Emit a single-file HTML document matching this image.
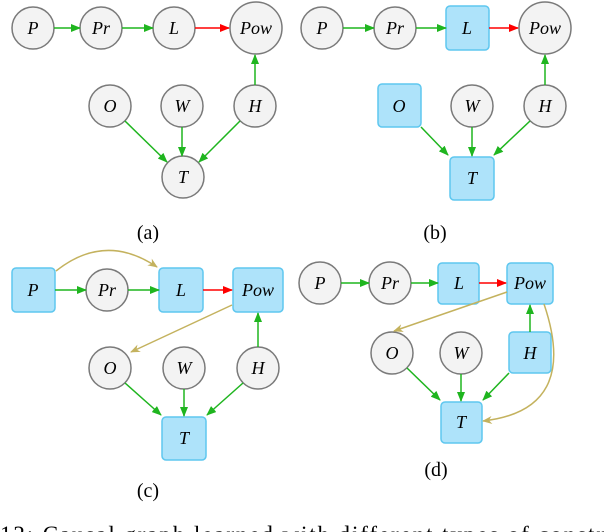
<!DOCTYPE html>
<html><head><meta charset="utf-8"><style>
html,body{margin:0;padding:0;background:#fff;width:604px;height:532px;overflow:hidden}
svg text{font-family:"Liberation Serif",serif}
.l{font-style:italic;font-size:18px}
.c{font-size:20px}
</style></head><body>
<svg width="604" height="532" viewBox="0 0 604 532" xmlns="http://www.w3.org/2000/svg">
<defs>
<marker id="g" markerWidth="10" markerHeight="8" refX="9" refY="4" orient="auto" markerUnits="userSpaceOnUse"><path d="M0,0 L10,4 L0,8z" fill="#1fb51f"/></marker>
<marker id="r" markerWidth="10" markerHeight="8" refX="9" refY="4" orient="auto" markerUnits="userSpaceOnUse"><path d="M0,0 L10,4 L0,8z" fill="#ff0000"/></marker>
<marker id="y" markerWidth="10" markerHeight="8" refX="9" refY="4" orient="auto" markerUnits="userSpaceOnUse"><path d="M0,0 L10,4 L0,8 L3,4z" fill="#c4b25e"/></marker>
</defs>
<g fill="#f3f3f3" stroke="#7a7a7a" stroke-width="1.5">
<circle cx="33" cy="28" r="21"/><circle cx="101" cy="28" r="21"/><circle cx="174" cy="28" r="21"/><circle cx="256" cy="28" r="26"/>
<circle cx="110" cy="106" r="21"/><circle cx="182" cy="106" r="21"/><circle cx="255" cy="106" r="21"/><circle cx="183" cy="177" r="21"/>
<circle cx="322" cy="28" r="21"/><circle cx="395" cy="28" r="21"/><circle cx="545" cy="28" r="26"/>
<circle cx="472" cy="106" r="21"/><circle cx="545" cy="106" r="21"/>
<circle cx="107" cy="290" r="21"/><circle cx="110" cy="368" r="21"/><circle cx="184" cy="368" r="21"/><circle cx="258" cy="368" r="21"/>
<circle cx="320" cy="283" r="21"/><circle cx="390" cy="283" r="21"/><circle cx="392" cy="353" r="21"/><circle cx="461" cy="353" r="21"/>
</g>
<g fill="#aee3fa" stroke="#5ec7ef" stroke-width="1.5">
<rect x="446" y="6" width="43" height="44" rx="4"/><rect x="378" y="84" width="43" height="43" rx="4"/><rect x="450" y="157" width="44" height="43" rx="4"/>
<rect x="12" y="268" width="43" height="44" rx="4"/><rect x="159" y="268" width="44" height="44" rx="4"/><rect x="233" y="268" width="50" height="44" rx="4"/><rect x="162" y="417" width="44" height="43" rx="4"/>
<rect x="438" y="263" width="41" height="41" rx="4"/><rect x="507" y="263" width="46" height="41" rx="4"/><rect x="509" y="332" width="42" height="41" rx="4"/><rect x="441" y="402" width="41" height="41" rx="4"/>
</g>
<g stroke="#1fb51f" stroke-width="1.5" fill="none" marker-end="url(#g)">
<line x1="54" y1="28" x2="80" y2="28"/><line x1="122" y1="28" x2="153" y2="28"/><line x1="255" y1="85" x2="255" y2="55"/>
<line x1="125" y1="121" x2="167" y2="162"/><line x1="182" y1="127" x2="182" y2="156"/><line x1="240" y1="121" x2="199" y2="162"/>
<line x1="343" y1="28" x2="374" y2="28"/><line x1="416" y1="28" x2="446" y2="28"/><line x1="545" y1="85" x2="545" y2="55"/>
<line x1="421" y1="127" x2="448" y2="155"/><line x1="472" y1="127" x2="472" y2="156"/><line x1="530" y1="121" x2="494" y2="155"/>
<line x1="55" y1="290" x2="86" y2="290"/><line x1="128" y1="290" x2="159" y2="290"/><line x1="258" y1="347" x2="258" y2="313"/>
<line x1="125" y1="383" x2="161" y2="415"/><line x1="184" y1="389" x2="184" y2="416"/><line x1="243" y1="383" x2="207" y2="415"/>
<line x1="341" y1="283" x2="369" y2="283"/><line x1="411" y1="283" x2="438" y2="283"/><line x1="530" y1="332" x2="530" y2="305"/>
<line x1="407" y1="368" x2="440" y2="400"/><line x1="461" y1="374" x2="461" y2="401"/><line x1="509" y1="373" x2="483" y2="400"/>
</g>
<g stroke="#ff0000" stroke-width="1.5" marker-end="url(#r)">
<line x1="195" y1="28" x2="229" y2="28"/><line x1="489" y1="28" x2="518" y2="28"/><line x1="203" y1="290" x2="232" y2="290"/><line x1="479" y1="283" x2="506" y2="283"/>
</g>
<g stroke="#c4b25e" stroke-width="1.5" fill="none" marker-end="url(#y)">
<path d="M56,271 Q105,232 157,267"/>
<line x1="232" y1="305" x2="131" y2="352"/>
<line x1="507" y1="292" x2="394" y2="331"/>
<path d="M544,304 Q580,410 483,421"/>
</g>
<g class="l" text-anchor="middle">
<text x="33" y="34">P</text><text x="101" y="34">Pr</text><text x="174" y="34">L</text><text x="256" y="34">Pow</text>
<text x="110" y="112">O</text><text x="182" y="112">W</text><text x="255" y="112">H</text><text x="183" y="183">T</text>
<text x="322" y="34">P</text><text x="395" y="34">Pr</text><text x="467" y="34">L</text><text x="545" y="34">Pow</text>
<text x="399" y="112">O</text><text x="472" y="112">W</text><text x="545" y="112">H</text><text x="472" y="184">T</text>
<text x="33" y="296">P</text><text x="107" y="296">Pr</text><text x="181" y="296">L</text><text x="258" y="296">Pow</text>
<text x="110" y="374">O</text><text x="184" y="374">W</text><text x="258" y="374">H</text><text x="184" y="444">T</text>
<text x="320" y="289">P</text><text x="390" y="289">Pr</text><text x="459" y="289">L</text><text x="530" y="289">Pow</text>
<text x="392" y="359">O</text><text x="461" y="359">W</text><text x="530" y="359">H</text><text x="461" y="428">T</text>
</g>
<g class="c" text-anchor="middle">
<text x="148" y="239">(a)</text><text x="435" y="239">(b)</text><text x="148" y="497">(c)</text><text x="436" y="476">(d)</text>
</g>
<text x="0" y="542" style="font-size:23px" textLength="604" lengthAdjust="spacing">12: Causal graph learned with different types of constr</text>
</svg>
</body></html>
